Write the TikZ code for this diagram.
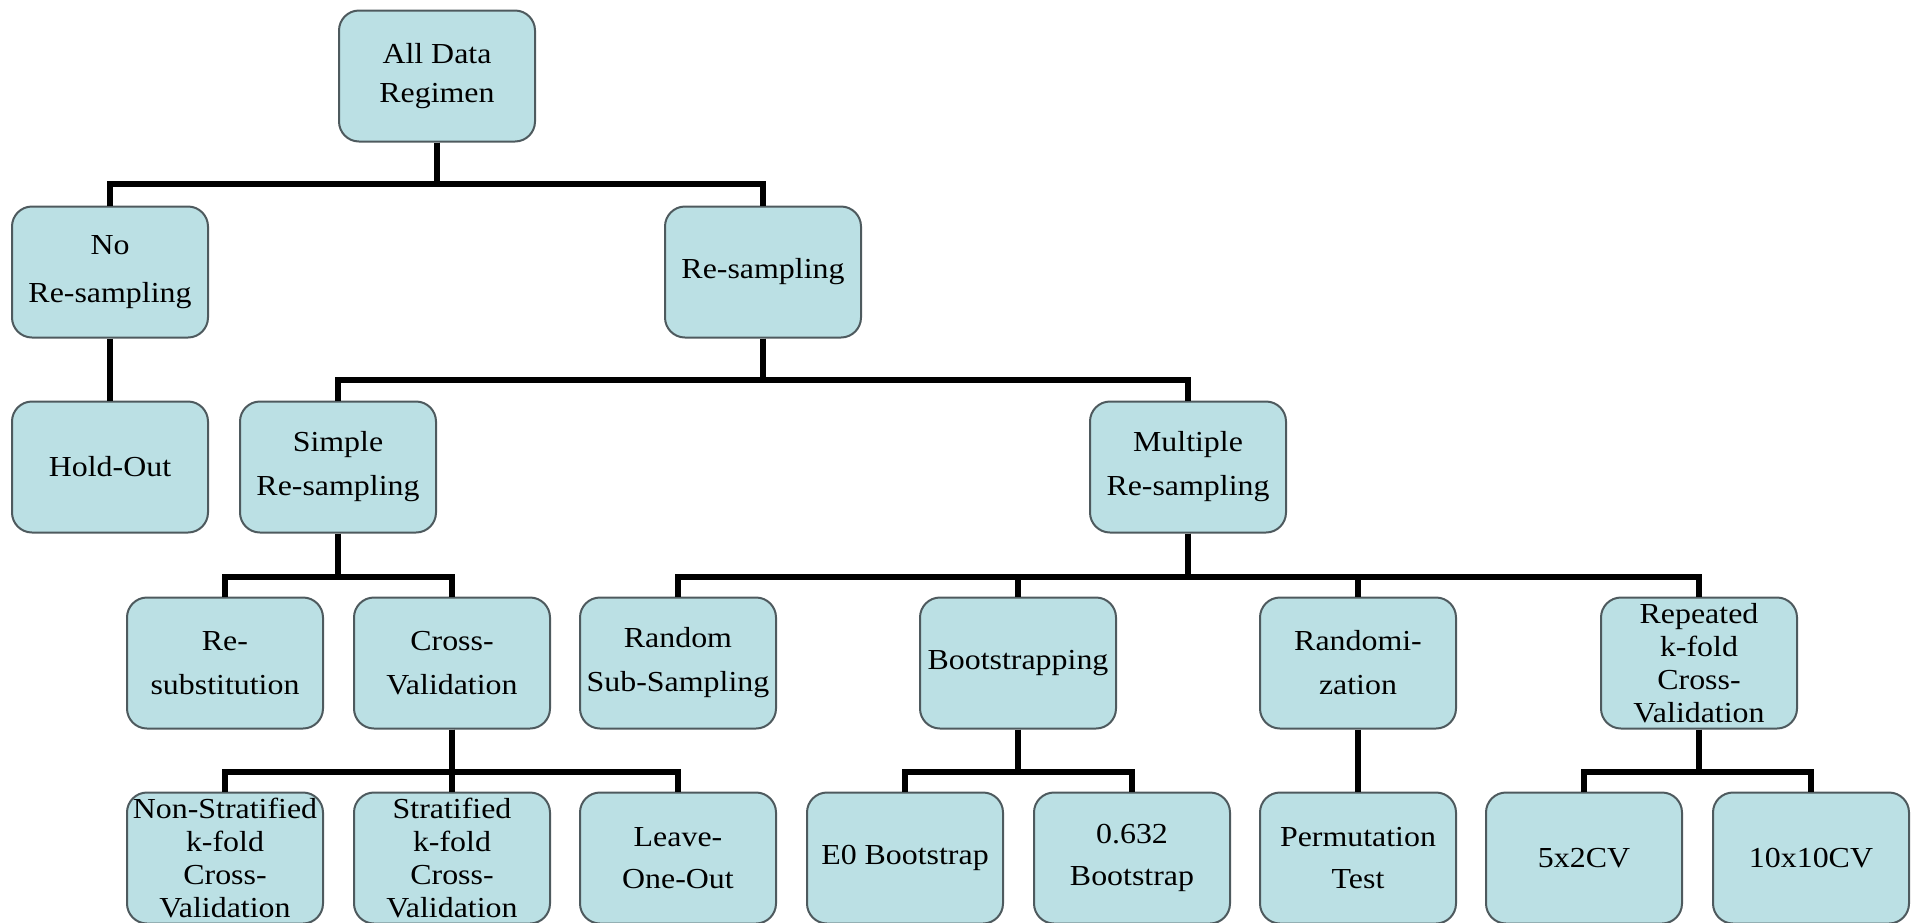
\documentclass[tikz,border=0pt]{standalone}
\usepackage{fontspec}
\setmainfont[FakeStretch=1.1]{Liberation Serif}
\usetikzlibrary{positioning}
\definecolor{boxfill}{RGB}{187,224,228}
\definecolor{boxline}{RGB}{78,90,94}

\begin{document}
\begin{tikzpicture}[x=0.5pt,y=-0.5pt,
        box/.style={draw=boxline, line width=1pt, fill=boxfill, rounded corners=10pt,
            minimum width=98pt, minimum height=65.5pt, inner sep=1pt, align=center,
            font=\fontsize{14.5}{22}\selectfont},
        tall/.style={font=\fontsize{14.5}{16.5}\selectfont},
        link/.style={line width=3pt, black}]
                    \useasboundingbox (0,0) rectangle (1917,922);

                    \node[box, font=\fontsize{14.5}{19.5}\selectfont] (root) at (437,76) {All Data\\Regimen};

                    \node[box, font=\fontsize{14.5}{24}\selectfont] (nors) at (110,272) {No\\Re-sampling};
                    \node[box] (rs) at (763,272) {Re-sampling};

                    \node[box] (hold) at (110,467) {Hold-Out};
                    \node[box] (simple) at (338,467) {Simple\\Re-sampling};
                    \node[box] (multi) at (1188,467) {Multiple\\Re-sampling};

                    \node[box] (resub) at (225,663) {Re-\\substitution};
                    \node[box] (cv) at (452,663) {Cross-\\Validation};
                    \node[box] (rss) at (678,663) {Random\\Sub-Sampling};
                    \node[box] (boot) at (1018,663) {Bootstrapping};
                    \node[box] (rand) at (1358,663) {Randomi-\\zation};
                    \node[box, tall] (rep) at (1699,663) {Repeated\\k-fold\\Cross-\\Validation};

                    \node[box, tall] (nsk) at (225,858) {Non-Stratified\\k-fold\\Cross-\\Validation};
                    \node[box, tall] (sk) at (452,858) {Stratified\\k-fold\\Cross-\\Validation};
                    \node[box, font=\fontsize{14.5}{21}\selectfont] (loo) at (678,858) {Leave-\\One-Out};
                    \node[box] (eboot) at (905,858) {E0 Bootstrap};
                    \node[box, font=\fontsize{14.5}{21}\selectfont] (pboot) at (1132,858) {0.632\\Bootstrap};
                    \node[box, font=\fontsize{14.5}{21}\selectfont] (perm) at (1358,858) {Permutation\\Test};
                    \node[box] (five) at (1584,858) {5x2CV};
                    \node[box] (ten) at (1811,858) {10x10CV};

                    \draw[link] (root.south) -- ++(0,41) -| (nors.north);
                    \draw[link] (root.south) -- ++(0,41) -| (rs.north);
                    \draw[link] (nors.south) -- (hold.north);
                    \draw[link] (rs.south) -- ++(0,41) -| (simple.north);
                    \draw[link] (rs.south) -- ++(0,41) -| (multi.north);
                    \draw[link] (simple.south) -- ++(0,43) -| (resub.north);
                    \draw[link] (simple.south) -- ++(0,43) -| (cv.north);
                    \foreach \c in {rss,boot,rand,rep}
                        \draw[link] (multi.south) -- ++(0,43) -| (\c.north);
                    \foreach \c in {nsk,sk,loo}
                        \draw[link] (cv.south) -- ++(0,42) -| (\c.north);
                    \draw[link] (boot.south) -- ++(0,42) -| (eboot.north);
                    \draw[link] (boot.south) -- ++(0,42) -| (pboot.north);
                    \draw[link] (rand.south) -- (perm.north);
                    \draw[link] (rep.south) -- ++(0,42) -| (five.north);
                    \draw[link] (rep.south) -- ++(0,42) -| (ten.north);

                \end{tikzpicture}
\end{document}
